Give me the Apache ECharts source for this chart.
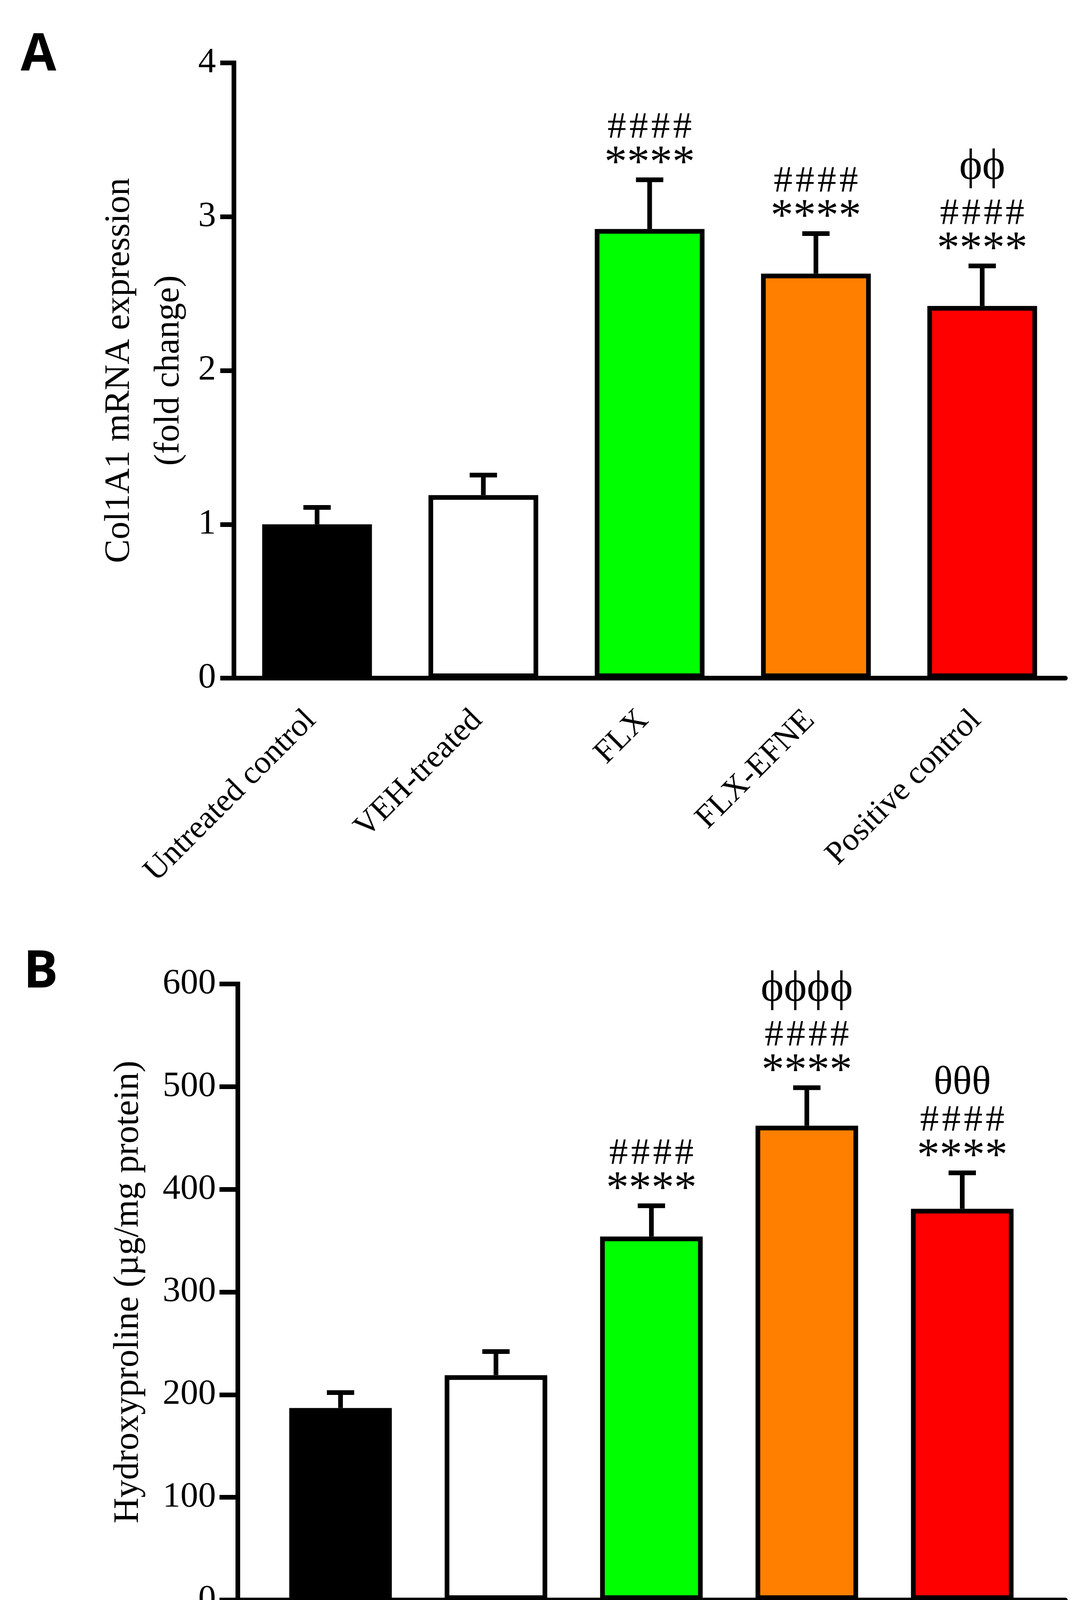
<!DOCTYPE html>
<html><head><meta charset="utf-8">
<script src="https://cdn.jsdelivr.net/npm/echarts@6/dist/echarts.min.js"></script>
<style>html,body{margin:0;padding:0;background:#fff}#c{width:2786px;height:4666px}</style>
</head><body><div id="c"></div>
<script>
// ---------- data ----------
const categories = ['Untreated control', 'VEH-treated', 'FLX', 'FLX-EFNE', 'Positive control'];
const barColors = ['#000000', '#FFFFFF', '#00FF00', '#FF8000', '#FF0000'];

const col1a1Mean  = [1.00, 1.19, 2.92, 2.63, 2.42];
const col1a1Upper = [1.11, 1.32, 3.24, 2.89, 2.68];
const col1a1Ticks = [0, 1, 2, 3, 4];
const col1a1Stars = ['', '', '****', '****', '****'];
const col1a1Hash  = ['', '', '####', '####', '####'];
const col1a1Third = ['', '', '', '', 'ϕϕ'];

const hypMean  = [187, 219, 354, 462, 381];
const hypUpper = [202, 242, 384, 499, 416];
const hypTicks = [0, 100, 200, 300, 400, 500, 600];
const hypStars = ['', '', '****', '****', '****'];
const hypHash  = ['', '', '####', '####', '####'];
const hypThird = ['', '', '', 'ϕϕϕϕ', 'θθθ'];

// ---------- helpers ----------
const SERIF = '"Liberation Serif", "Times New Roman", serif';
const SANS_B = 'bold 132px "Open Sans", "DejaVu Sans", sans-serif';
const LW = 12;

function barData(means) {
  return means.map((v, i) => ({ value: v, itemStyle: { color: barColors[i] } }));
}
function errData(means, uppers) {
  return means.map((m, i) => [i, uppers[i], m]);
}
function makeRender(stars, hashes, thirds) {
  return function (params, api) {
    const i = api.value(0);
    const top = api.coord([i, api.value(1)]);
    const base = api.coord([i, api.value(2)]);
    const x = top[0], yc = top[1];
    const ch = [
      { type: 'line', shape: { x1: x, y1: base[1], x2: x, y2: yc }, style: { stroke: '#000', lineWidth: LW } },
      { type: 'line', shape: { x1: x - 35, y1: yc, x2: x + 35, y2: yc }, style: { stroke: '#000', lineWidth: LW } }
    ];
    const txt = (s, size, baseline) => ({
      type: 'text',
      style: { text: s, x: x, y: baseline - 0.3375 * size, fill: '#000',
               font: size + 'px ' + SERIF, align: 'center', verticalAlign: 'middle' }
    });
    if (stars[i]) ch.push(txt(stars[i], 116, yc));
    if (hashes[i]) ch.push(txt(hashes[i].split('').join('\u200A'), 96, yc - 100));
    if (thirds[i]) {
      const isTheta = thirds[i].indexOf('θ') >= 0;
      ch.push(txt(thirds[i], isTheta ? 102 : 112, yc - (isTheta ? 195 : 214)));
    }
    return { type: 'group', children: ch };
  };
}
function yAxisBase(ticks, gridIndex, tickLen, labelMargin) {
  return {
    type: 'value', gridIndex: gridIndex,
    min: ticks[0], max: ticks[ticks.length - 1], interval: ticks[1] - ticks[0],
    axisLine: { show: true, lineStyle: { color: '#000', width: LW, cap: 'square' } },
    axisTick: { show: true, inside: false, length: tickLen, lineStyle: { color: '#000', width: LW } },
    axisLabel: { color: '#000', fontFamily: SERIF, fontSize: 91, margin: labelMargin },
    splitLine: { show: false },
    nameLocation: 'middle',
    nameTextStyle: { color: '#000', fontFamily: SERIF, fontSize: 91 }
  };
}
function xCatAxis(gridIndex, showLine, margin) {
  return {
    type: 'category', gridIndex: gridIndex, data: categories, boundaryGap: true,
    axisLine: { show: showLine, lineStyle: { color: '#000', width: LW } },
    axisTick: { show: false },
    axisLabel: { color: '#000', fontFamily: SERIF, fontSize: 83, rotate: 45, margin: margin,
                 interval: 0, verticalAlign: 'middle', padding: [0, 22, 0, 0] }
  };
}

const chart = echarts.init(document.getElementById('c'), null, { renderer: 'canvas', width: 2786, height: 4666 });

const yA = yAxisBase(col1a1Ticks, 0, 35, 46);
yA.name = 'Col1A1 mRNA expression\n(fold change)';
yA.nameGap = 82;
yA.nameTextStyle.lineHeight = 127;

const yB = yAxisBase(hypTicks, 1, 47, 56);
yB.name = 'Hydroxyproline (µg/mg protein)';
yB.nameGap = 234;

const yB2 = { type: 'value', gridIndex: 2, show: false,
  min: hypTicks[0], max: hypTicks[hypTicks.length - 1], interval: hypTicks[1] - hypTicks[0],
  splitLine: { show: false } };

const option = {
  backgroundColor: '#ffffff',
  animation: false,
  graphic: [
    { type: 'text', left: 53, top: 77, style: { text: 'A', font: SANS_B, fill: '#000' } },
    { type: 'text', left: 60, top: 2424, style: { text: 'B', font: SANS_B, fill: '#000' } }
  ],
  grid: [
    { left: 599, top: 161, width: 2129, height: 1575 },
    { left: 609, top: 2519, width: 2119, height: 1577 },
    { left: 673, top: 2519, width: 1990, height: 1577 }
  ],
  xAxis: [
    xCatAxis(0, true, 80),
    { type: 'value', gridIndex: 1, min: 0, max: 1, axisLine: { show: true, lineStyle: { color: '#000', width: LW } },
      axisTick: { show: false }, axisLabel: { show: false }, splitLine: { show: false } },
    xCatAxis(2, false, 92)
  ],
  yAxis: [yA, yB, yB2],
  series: [
    { type: 'bar', xAxisIndex: 0, yAxisIndex: 0, data: barData(col1a1Mean), barWidth: '66%',
      itemStyle: { borderColor: '#000', borderWidth: LW }, emphasis: { disabled: true }, z: 3 },
    { type: 'custom', xAxisIndex: 0, yAxisIndex: 0, data: errData(col1a1Mean, col1a1Upper),
      renderItem: makeRender(col1a1Stars, col1a1Hash, col1a1Third), encode: { x: 0, y: 1 }, z: 4 },
    { type: 'bar', xAxisIndex: 2, yAxisIndex: 2, data: barData(hypMean), barWidth: '66%',
      itemStyle: { borderColor: '#000', borderWidth: LW }, emphasis: { disabled: true }, z: 3 },
    { type: 'custom', xAxisIndex: 2, yAxisIndex: 2, data: errData(hypMean, hypUpper),
      renderItem: makeRender(hypStars, hypHash, hypThird), encode: { x: 0, y: 1 }, z: 4 }
  ]
};
chart.setOption(option);
</script>
</body></html>
